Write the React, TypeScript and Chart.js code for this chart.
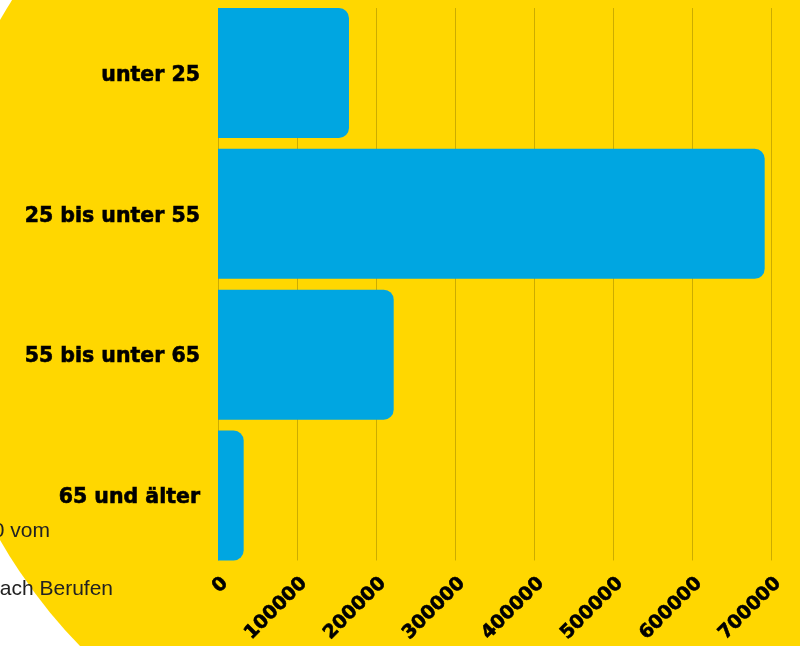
import React, { useEffect, useRef } from "react";
import { Chart, registerables } from "chart.js";

Chart.register(...registerables);

const categories = ["unter 25", "25 bis unter 55", "55 bis unter 65", "65 und älter"];
const values = [165800, 692000, 222400, 32500];
const xTickValues = [0, 100000, 200000, 300000, 400000, 500000, 600000, 700000];
const noteLines = ["0 vom", "nach Berufen"];

const YELLOW = "#FFD700";
const BLUE = "#00A6E1";
const GRID = "rgba(0,0,0,0.2)";

const backdrop = {
  id: "backdrop",
  beforeDraw(chart: any) {
    const ctx = chart.ctx;
    ctx.save();
    ctx.fillStyle = "#ffffff";
    ctx.fillRect(0, 0, chart.width, chart.height);
    ctx.beginPath();
    ctx.arc(455, 280, 524, 0, Math.PI * 2);
    ctx.fillStyle = YELLOW;
    ctx.fill();
    ctx.fillStyle = "#222222";
    ctx.font = "21px 'Liberation Sans', Arial, sans-serif";
    ctx.textAlign = "right";
    ctx.textBaseline = "alphabetic";
    ctx.fillText(noteLines[0], 50, 537);
    ctx.fillText(noteLines[1], 113, 595);
    ctx.restore();
  },
};

// vertical grid lines spanning from the first bar's top edge to the last bar's bottom edge
const gridLines = {
  id: "gridLines",
  beforeDatasetsDraw(chart: any) {
    const meta = chart.getDatasetMeta(0);
    const bars = meta.data;
    if (!bars.length) return;
    const first = bars[0];
    const last = bars[bars.length - 1];
    const top = first.y - first.height / 2;
    const bottom = last.y + last.height / 2;
    const xScale = chart.scales.x;
    const ctx = chart.ctx;
    ctx.save();
    ctx.strokeStyle = GRID;
    ctx.lineWidth = 1;
    xTickValues.forEach((v) => {
      const x = Math.round(xScale.getPixelForValue(v)) + 0.5;
      ctx.beginPath();
      ctx.moveTo(x, top);
      ctx.lineTo(x, bottom);
      ctx.stroke();
    });
    ctx.restore();
  },
};

export default function App() {
  const ref = useRef<HTMLCanvasElement>(null);
  useEffect(() => {
    if (!ref.current) return;
    const chart = new Chart(ref.current, {
      type: "bar",
      data: {
        labels: categories,
        datasets: [
          {
            data: values,
            backgroundColor: BLUE,
            borderWidth: 0,
            borderRadius: 10,
            borderSkipped: "start",
            categoryPercentage: 1,
            barPercentage: 0.923,
          },
        ],
      },
      options: {
        indexAxis: "y",
        animation: false,
        responsive: false,
        devicePixelRatio: 1,
        layout: { padding: { left: 8, right: 29, top: 2.6, bottom: 0 } },
        plugins: { legend: { display: false }, tooltip: { enabled: false } },
        scales: {
          x: {
            min: 0,
            max: 700000,
            afterBuildTicks(scale: any) {
              scale.ticks = xTickValues.map((v) => ({ value: v }));
            },
            afterFit(scale: any) {
              scale.height = 80.1;
              scale.paddingLeft = 0;
              scale.paddingRight = 0;
            },
            grid: { display: false, drawTicks: false },
            border: { display: false },
            ticks: {
              color: "#000",
              minRotation: 45,
              maxRotation: 45,
              padding: 6.5,
              labelOffset: 7,
              textStrokeColor: "#000",
              textStrokeWidth: 0.6,
              font: { family: "'DejaVu Sans'", weight: "bold", size: 19 },
              callback: (v: any) => String(v),
            },
          },
          y: {
            afterFit(scale: any) {
              scale.width = 210;
              scale.paddingTop = 0;
              scale.paddingBottom = 0;
            },
            grid: { display: false, drawTicks: false },
            border: { display: false },
            ticks: {
              color: "#000",
              padding: 18,
              labelOffset: 2.5,
              textStrokeColor: "#000",
              textStrokeWidth: 0.6,
              font: { family: "'DejaVu Sans'", weight: "bold", size: 20.5 },
            },
          },
        },
      },
      plugins: [backdrop, gridLines],
    });
    return () => chart.destroy();
  }, []);
  return (
    <div style={{ position: "fixed", left: 0, top: 0, width: 800, height: 646 }}>
      <canvas ref={ref} width={800} height={646} style={{ display: "block" }} />
    </div>
  );
}
